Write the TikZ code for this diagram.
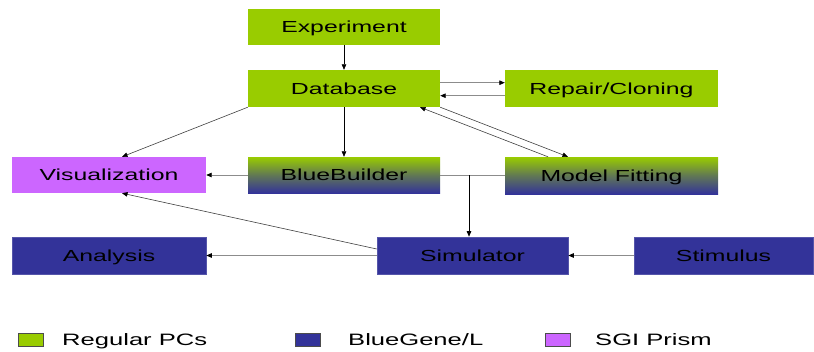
\documentclass[tikz,border=0pt]{standalone}
\usepackage{fontspec}
\newfontfamily\boxfont{Liberation Sans}[FakeStretch=1.55]
\usetikzlibrary{arrows.meta}
\definecolor{pcgreen}{HTML}{99CC00}
\definecolor{bgblue}{HTML}{333399}
\definecolor{bgborder}{HTML}{5555AA}
\definecolor{sgipurple}{HTML}{CC66FF}
\definecolor{linegray}{HTML}{8C8C8C}
\definecolor{diaggray}{HTML}{404040}
\tikzset{
  box/.style={rectangle, inner sep=0pt, text height=11.5pt, text depth=0pt, font=\boxfont\fontsize{16}{18}\selectfont, text=black},
  greenbox/.style={box, fill=pcgreen},
  bluebox/.style={box, fill=bgblue, draw=bgborder, line width=0.6pt},
  purplebox/.style={box, fill=sgipurple},
  gradbox/.style={box, top color=pcgreen, bottom color=bgblue, middle color=pcgreen!45!bgblue},
  tip/.style={-{Triangle[length=5.5pt,width=4.5pt,color=black]}},
  vline/.style={tip, draw=black, line width=0.7pt},
  hline/.style={tip, draw=linegray, line width=0.8pt},
  dline/.style={tip, draw=diaggray, line width=0.6pt},
  legsq/.style={rectangle, inner sep=0pt, minimum width=25pt, minimum height=13pt, draw=black!70, line width=0.5pt},
  legtext/.style={anchor=west, inner sep=0pt, text height=12pt, text depth=0pt, font=\boxfont\fontsize{16.5}{18}\selectfont}
}
\begin{document}
\begin{tikzpicture}[x=1pt,y=-1pt]
\useasboundingbox (0,0) rectangle (814,351);
% nodes
\node[greenbox, minimum width=192pt, minimum height=36pt] (exp) at (344,27) {Experiment};
\node[greenbox, minimum width=192pt, minimum height=37pt] (db) at (344,88.5) {Database};
\node[greenbox, minimum width=213pt, minimum height=37pt] (rep) at (611.5,88.5) {Repair/Cloning};
\node[purplebox, minimum width=194pt, minimum height=36pt] (vis) at (109,175) {Visualization};
\node[gradbox, minimum width=192pt, minimum height=36pt] (bb) at (344,175) {BlueBuilder};
\node[gradbox, minimum width=213pt, minimum height=37pt] (mf) at (611.5,175.5) {Model Fitting};
\node[bluebox, minimum width=194pt, minimum height=37pt] (ana) at (109,255.5) {Analysis};
\node[bluebox, minimum width=191pt, minimum height=37pt] (sim) at (472.5,255.5) {Simulator};
\node[bluebox, minimum width=179pt, minimum height=37pt] (stim) at (723.5,255.5) {Stimulus};
% connectors
\draw[vline] (exp.south) -- (db.north);
\draw[hline] ([yshift=5.8pt]db.east) -- ([yshift=5.8pt]rep.west);
\draw[hline] ([yshift=-7.2pt]rep.west) -- ([yshift=-7.2pt]db.east);
\draw[dline] (db.south west) -- ([xshift=13pt]vis.north);
\draw[vline] (db.south) -- (bb.north);
\draw[dline] (db.south east) -- ([xshift=-43.5pt]mf.north);
\draw[dline] ([xshift=-63.5pt]mf.north) -- ([xshift=76pt]db.south);
\draw[hline] (bb.west) -- (vis.east);
\draw[draw=linegray, line width=0.8pt] (bb.east) -- (mf.west |- bb.east);
\coordinate (j) at (469,175);
\draw[vline] (j) -- (j |- sim.north);
\draw[dline] ([yshift=6.5pt]sim.west) -- ([xshift=13pt]vis.south);
\draw[hline] (sim.west) -- (ana.east);
\draw[hline] (stim.west) -- (sim.east);
% legend
\node[legsq, fill=pcgreen] (lg1) at (30.5,339.5) {};
\node[legtext] (lt1) at (62,339.5) {Regular PCs};
\node[legsq, fill=bgblue] (lg2) at (307.5,339.5) {};
\node[legtext] (lt2) at (348,339.5) {BlueGene/L};
\node[legsq, fill=sgipurple] (lg3) at (557.5,339.5) {};
\node[legtext] (lt3) at (595,339.5) {SGI Prism};
\end{tikzpicture}
\end{document}
